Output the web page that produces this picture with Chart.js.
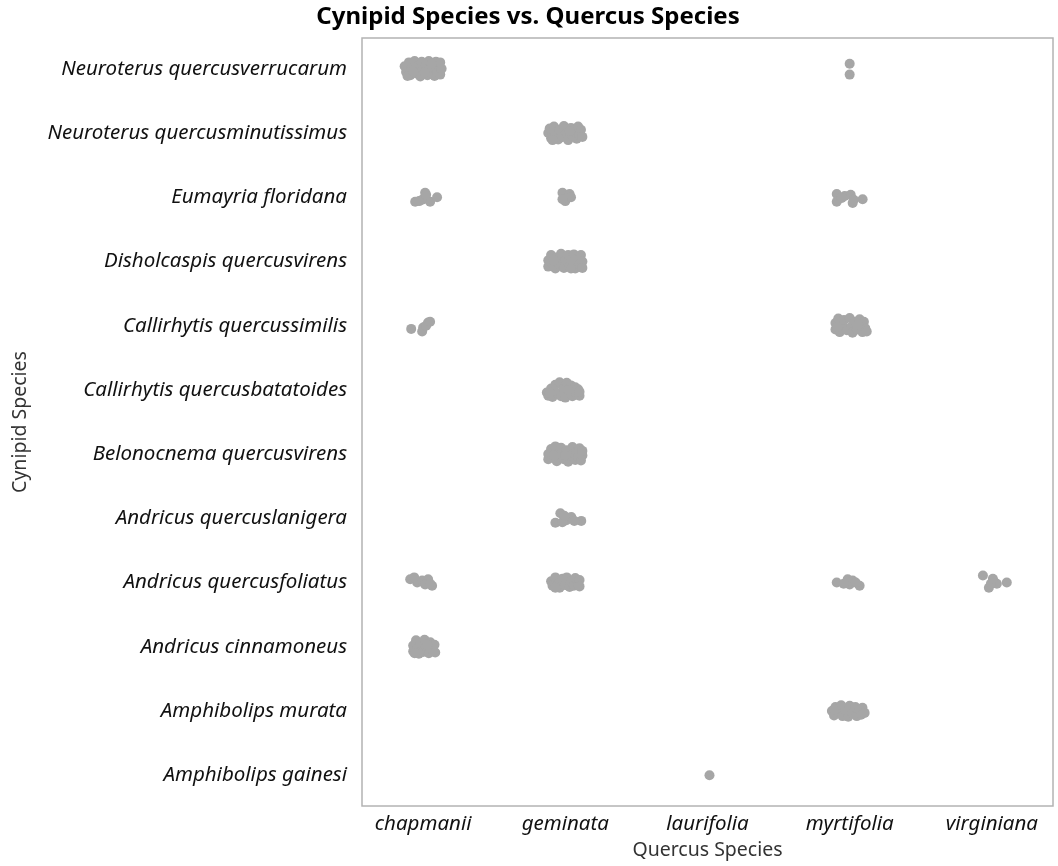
<!DOCTYPE html>
<html>
<head>
<meta charset="utf-8">
<title>Cynipid Species vs. Quercus Species</title>
<script src="https://cdn.jsdelivr.net/npm/chart.js@4/dist/chart.umd.min.js"></script>
<style>
  body { margin: 0; background: #fff; }
  #wrap { width: 1058px; height: 866px; }
</style>
</head>
<body>
<div id="wrap"><canvas id="chart" width="1058" height="866"></canvas></div>
<script>
// oak species along x, gall wasp species along y (top to bottom)
const quercus = ['chapmanii', 'geminata', 'laurifolia', 'myrtifolia', 'virginiana'];
const cynipids = [
  'Neuroterus quercusverrucarum',
  'Neuroterus quercusminutissimus',
  'Eumayria floridana',
  'Disholcaspis quercusvirens',
  'Callirhytis quercussimilis',
  'Callirhytis quercusbatatoides',
  'Belonocnema quercusvirens',
  'Andricus quercuslanigera',
  'Andricus quercusfoliatus',
  'Andricus cinnamoneus',
  'Amphibolips murata',
  'Amphibolips gainesi'
];

// each cluster: [cynipid index, quercus index, jittered points as [dx, dy]]
const clusters = [
  [0, 0, [[-0.13,-0.04],[-0.12,0.05],[-0.10,-0.10],[-0.09,0.10],[-0.08,0.0],[-0.06,-0.12],[-0.05,0.07],[-0.04,-0.04],[-0.02,0.12],[-0.01,-0.11],[0.0,0.02],[0.02,-0.06],[0.03,0.10],[0.04,-0.12],[0.05,0.04],[0.07,-0.03],[0.08,0.11],[0.09,-0.11],[0.10,0.05],[0.11,-0.05],[0.12,0.09],[0.13,0.0],[0.12,-0.10],[-0.11,0.11],[0.01,0.06],[-0.07,0.04],[0.06,-0.08]]],
  [0, 3, [[0.0,-0.08],[0.0,0.09]]],
  [1, 1, [[-0.12,0.0],[-0.11,-0.07],[-0.10,0.08],[-0.08,-0.10],[-0.07,0.03],[-0.05,0.10],[-0.04,-0.05],[-0.02,0.06],[-0.01,-0.11],[0.01,0.0],[0.02,0.11],[0.04,-0.08],[0.05,0.05],[0.07,-0.02],[0.08,0.09],[0.09,-0.10],[0.10,0.03],[0.11,-0.05],[0.12,0.06],[-0.09,0.11],[0.03,-0.03]]],
  [2, 0, [[-0.056,0.07],[0.014,-0.07],[0.049,0.07],[0.098,0.0],[-0.007,0.04],[-0.028,0.06],[0.021,-0.04]]],
  [2, 1, [[-0.02,-0.07],[0.03,-0.05],[0.0,0.06],[0.04,0.0],[-0.02,0.03]]],
  [2, 3, [[-0.091,-0.05],[-0.091,0.07],[-0.035,-0.02],[0.007,-0.04],[0.021,0.09],[0.028,0.04],[0.091,0.03],[-0.056,0.01]]],
  [3, 1, [[-0.12,-0.02],[-0.12,0.08],[-0.10,-0.10],[-0.09,0.03],[-0.07,0.11],[-0.06,-0.06],[-0.04,0.05],[-0.03,-0.12],[-0.01,0.10],[0.0,-0.02],[0.02,-0.10],[0.03,0.07],[0.05,0.0],[0.06,-0.11],[0.07,0.11],[0.09,-0.05],[0.10,0.05],[0.11,-0.10],[0.12,0.0],[0.12,0.10],[-0.08,-0.02],[0.04,0.11]]],
  [4, 0, [[-0.084,0.05],[0.0,0.03],[0.035,-0.05],[-0.007,0.09],[0.021,0.0],[0.049,-0.06]]],
  [4, 3, [[-0.10,-0.04],[-0.10,0.06],[-0.08,-0.11],[-0.07,0.10],[-0.05,0.0],[-0.04,-0.09],[-0.02,0.07],[0.0,-0.12],[0.01,0.02],[0.02,0.11],[0.04,-0.06],[0.05,0.06],[0.07,-0.10],[0.08,0.01],[0.09,0.10],[0.10,-0.06],[0.11,0.04],[0.12,0.09],[-0.09,0.02],[0.06,-0.02]]],
  [5, 1, [[-0.13,0.04],[-0.12,0.09],[-0.10,-0.02],[-0.09,0.11],[-0.07,-0.08],[-0.06,0.05],[-0.04,-0.12],[-0.03,0.10],[-0.01,-0.03],[0.0,0.12],[0.01,-0.11],[0.03,0.04],[0.04,-0.07],[0.05,0.10],[0.07,-0.04],[0.08,0.06],[0.09,-0.01],[0.10,0.09],[0.10,0.03],[-0.11,0.05],[0.02,0.0]]],
  [6, 1, [[-0.12,0.0],[-0.12,0.08],[-0.10,-0.08],[-0.09,0.05],[-0.07,-0.12],[-0.06,0.11],[-0.04,-0.02],[-0.03,-0.10],[-0.01,0.08],[0.01,-0.06],[0.02,0.12],[0.04,0.02],[0.05,-0.11],[0.07,0.09],[0.08,-0.04],[0.09,0.04],[0.10,-0.09],[0.11,0.10],[0.12,0.02],[0.12,-0.05],[-0.08,0.02],[0.0,0.02]]],
  [7, 1, [[-0.07,0.07],[-0.035,-0.08],[0.007,0.03],[0.042,-0.02],[0.112,0.04],[-0.021,0.06],[0.063,0.04],[-0.007,-0.04]]],
  [8, 0, [[-0.091,-0.05],[-0.042,0.0],[-0.007,-0.03],[0.035,-0.05],[0.063,0.05],[-0.063,-0.08],[0.014,0.03],[0.049,0.02]]],
  [8, 1, [[-0.10,-0.02],[-0.09,0.05],[-0.07,-0.08],[-0.05,0.02],[-0.04,0.08],[-0.02,-0.06],[0.0,0.04],[0.01,-0.08],[0.03,0.07],[0.04,-0.02],[0.06,0.05],[0.07,-0.07],[0.09,0.02],[0.10,-0.04],[0.10,0.06],[-0.07,0.08]]],
  [8, 3, [[-0.091,0.0],[-0.014,-0.05],[0.021,-0.03],[0.0,0.03],[0.07,0.05],[-0.042,0.02],[0.042,0.0]]],
  [8, 4, [[-0.063,-0.11],[0.014,-0.02],[-0.021,0.08],[0.035,0.02],[0.105,0.0],[-0.007,0.02],[0.007,-0.06]]],
  [9, 0, [[-0.07,-0.02],[-0.07,0.07],[-0.05,-0.10],[-0.04,0.03],[-0.03,0.11],[-0.02,-0.05],[0.0,0.08],[0.01,-0.11],[0.02,0.0],[0.04,0.10],[0.05,-0.07],[0.06,0.04],[0.08,-0.03],[0.085,0.09],[-0.06,0.10],[0.03,-0.03]]],
  [10, 3, [[-0.125,0.0],[-0.11,0.07],[-0.10,-0.06],[-0.08,0.02],[-0.06,-0.09],[-0.05,0.08],[-0.03,-0.02],[-0.01,0.09],[0.0,-0.08],[0.02,0.03],[0.04,-0.06],[0.05,0.08],[0.07,-0.01],[0.08,0.06],[0.09,-0.05],[0.105,0.03],[-0.11,-0.02]]],
  [11, 2, [[0.014,0.0]]]
];

const points = [];
clusters.forEach(c => {
  c[2].forEach(p => points.push({ x: c[1] + p[0], y: c[0] + p[1] }));
});

// plain box round the plot area
const frame = {
  id: 'frame',
  beforeDatasetsDraw(chart) {
    const a = chart.chartArea;
    const ctx = chart.ctx;
    ctx.save();
    ctx.strokeStyle = '#b3b3b3';
    ctx.lineWidth = 1.5;
    ctx.strokeRect(a.left, a.top, a.right - a.left, a.bottom - a.top);
    ctx.restore();
  }
};

Chart.defaults.font.family = "'Noto Sans', 'Open Sans', sans-serif";

const ctx = document.getElementById('chart').getContext('2d');
new Chart(ctx, {
  type: 'scatter',
  data: {
    datasets: [{
      data: points,
      backgroundColor: '#a6a6a6',
      borderWidth: 0,
      pointRadius: 5,
      pointHoverRadius: 5
    }]
  },
  options: {
    responsive: false,
    animation: false,
    layout: { padding: { left: 0, right: 2, top: 0, bottom: 0 } },
    plugins: {
      legend: { display: false },
      tooltip: { enabled: false },
      title: {
        display: true,
        text: 'Cynipid Species vs. Quercus Species',
        color: '#000',
        font: { size: 24, weight: 'bold' },
        padding: { top: 3, bottom: 6.2 }
      }
    },
    scales: {
      x: {
        type: 'linear',
        min: -0.43,
        max: 4.43,
        grid: { display: false, drawTicks: false },
        border: { display: false },
        afterBuildTicks: s => { s.ticks = quercus.map((q, i) => ({ value: i })); },
        afterFit: s => { s.height = 60; },
        ticks: {
          autoSkip: false,
          maxRotation: 0,
          padding: 6,
          color: '#111',
          font: { size: 20.5, style: 'italic' },
          callback: v => quercus[v]
        },
        title: {
          display: true,
          text: 'Quercus Species',
          color: '#333',
          font: { size: 19.5 },
          padding: { top: 0, bottom: 4 }
        }
      },
      y: {
        type: 'linear',
        reverse: true,
        min: -0.48,
        max: 11.48,
        grid: { display: false, drawTicks: false },
        border: { display: false },
        afterBuildTicks: s => { s.ticks = cynipids.map((c, i) => ({ value: i })); },
        afterFit: s => { s.width = 362; },
        ticks: {
          autoSkip: false,
          padding: 15,
          color: '#111',
          font: { size: 20.5, style: 'italic' },
          callback: v => cynipids[v]
        },
        title: {
          display: true,
          text: 'Cynipid Species',
          color: '#333',
          font: { size: 19.5 },
          padding: { top: 9, bottom: 0 }
        }
      }
    }
  },
  plugins: [frame]
});
</script>
</body>
</html>
